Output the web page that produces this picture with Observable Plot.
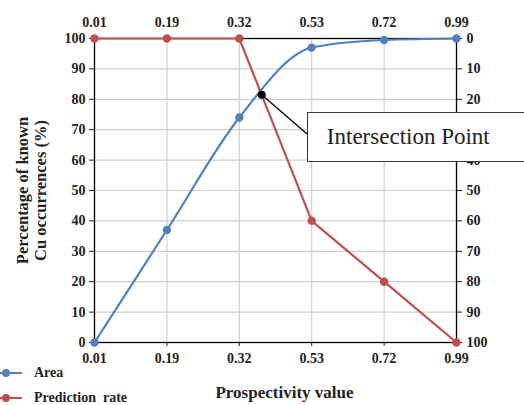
<!DOCTYPE html>
<html>
<head>
<meta charset="utf-8">
<script src="https://cdn.jsdelivr.net/npm/d3@7"></script>
<script src="https://cdn.jsdelivr.net/npm/@observablehq/plot@0.6"></script>
<style>
  html, body { margin: 0; padding: 0; background: #fff; }
  #wrap { position: relative; width: 524px; height: 405px; overflow: hidden; }
  #callout { position: absolute; background: #fff; border: 1px solid #3a3a3a; box-sizing: border-box;
    font-family: "Liberation Serif", serif; font-size: 23px; color: #222; padding-left: 19px; line-height: 48px; white-space: nowrap; }
  #legend { position: absolute; left: 0; top: 360px; font-family: "Liberation Serif", serif; font-weight: bold; font-size: 14px; color: #222; }
  #legend div { display: flex; align-items: center; height: 25px; }
  #legend svg { margin-right: 12px; }
</style>
</head>
<body>
<div id="wrap"></div>
<script>
const categories = ["0.01", "0.19", "0.32", "0.53", "0.72", "0.99"];
const area = [0, 37, 74, 97, 99.5, 100];
const predictionRate = [0, 0, 0, 60, 80, 100]; // read on the reversed right axis
const yTicks = [0, 10, 20, 30, 40, 50, 60, 70, 80, 90, 100];
const intersection = [{x: 2.31, y: 81.5}];
const calloutAnchor = [{x: 2.94, y: 68.5}];
const calloutText = "Intersection Point";

const blue = "#4f81bd";
const red = "#c0504d";
const idx = categories.map((_, i) => i);
const areaData = categories.map((c, i) => ({i, v: area[i]}));
const predData = categories.map((c, i) => ({i, v: 100 - predictionRate[i]}));
const leader = intersection.map((p, k) => ({x1: p.x, y1: p.y, x2: calloutAnchor[k].x, y2: calloutAnchor[k].y}));

const plot = Plot.plot({
  width: 524,
  height: 405,
  marginLeft: 94,
  marginRight: 68,
  marginTop: 38,
  marginBottom: 63,
  style: {fontFamily: "Liberation Serif, serif", fontSize: "14px", fontWeight: "bold", color: "#222", background: "transparent"},
  x: {domain: [0, 5]},
  y: {domain: [0, 100]},
  marks: [
    Plot.gridX(idx, {stroke: "#cfcfcf", strokeOpacity: 1, strokeWidth: 1.2}),
    Plot.gridY(yTicks, {stroke: "#cfcfcf", strokeOpacity: 1, strokeWidth: 1.2}),
    Plot.axisY(yTicks, {anchor: "left", tickSize: 5, tickPadding: 4, label: null}),
    Plot.axisY(yTicks, {anchor: "right", tickSize: 5, tickPadding: 5, tickFormat: d => 100 - d, label: null}),
    Plot.axisX(idx, {anchor: "top", tickSize: 0, tickPadding: 12, tickFormat: i => categories[i], label: null}),
    Plot.axisX(idx, {anchor: "bottom", tickSize: 4, tickPadding: 7, tickFormat: i => categories[i], label: null}),
    Plot.frame({stroke: "black", strokeWidth: 1.3}),
    Plot.text(["Percentage of known\nCu occurrences (%)"], {frameAnchor: "left", dx: -63, rotate: -90, textAnchor: "middle", lineAnchor: "middle", fontSize: 16.5, fontWeight: "bold", lineHeight: 1.1}),
    Plot.text(["Prospectivity value"], {frameAnchor: "bottom", dx: 9, dy: 50, textAnchor: "middle", lineAnchor: "middle", fontSize: 17, fontWeight: "bold"}),
    Plot.line(areaData, {x: "i", y: "v", stroke: blue, strokeWidth: 2.2, curve: "monotone-x"}),
    Plot.dot(areaData, {x: "i", y: "v", fill: blue, r: 4.2}),
    Plot.line(predData, {x: "i", y: "v", stroke: red, strokeWidth: 2.2}),
    Plot.dot(predData, {x: "i", y: "v", fill: red, r: 4.2}),
    Plot.link(leader, {x1: "x1", y1: "y1", x2: "x2", y2: "y2", stroke: "black", strokeWidth: 1.3}),
    Plot.dot(intersection, {x: "x", y: "y", fill: "black", r: 4})
  ]
});

const wrap = document.getElementById("wrap");
wrap.appendChild(plot);

const sx = plot.scale("x"), sy = plot.scale("y");
const box = document.createElement("div");
box.id = "callout";
box.textContent = calloutText;
const bx = sx.apply(calloutAnchor[0].x), by = sy.apply(calloutAnchor[0].y);
box.style.left = bx + "px";
box.style.top = (by - 22) + "px";
box.style.width = (524 - bx + 5) + "px";
box.style.height = "50px";
wrap.appendChild(box);

const legendItems = [{label: "Area", color: blue}, {label: "Prediction  rate", color: red}];
const legend = document.createElement("div");
legend.id = "legend";
for (const it of legendItems) {
  const row = document.createElement("div");
  row.innerHTML = `<svg width="22" height="10"><line x1="0" y1="5" x2="22" y2="5" stroke="${it.color}" stroke-width="2"/><circle cx="6" cy="5" r="4" fill="${it.color}"/></svg><span style="white-space:pre">${it.label}</span>`;
  legend.appendChild(row);
}
wrap.appendChild(legend);
</script>
</body>
</html>
